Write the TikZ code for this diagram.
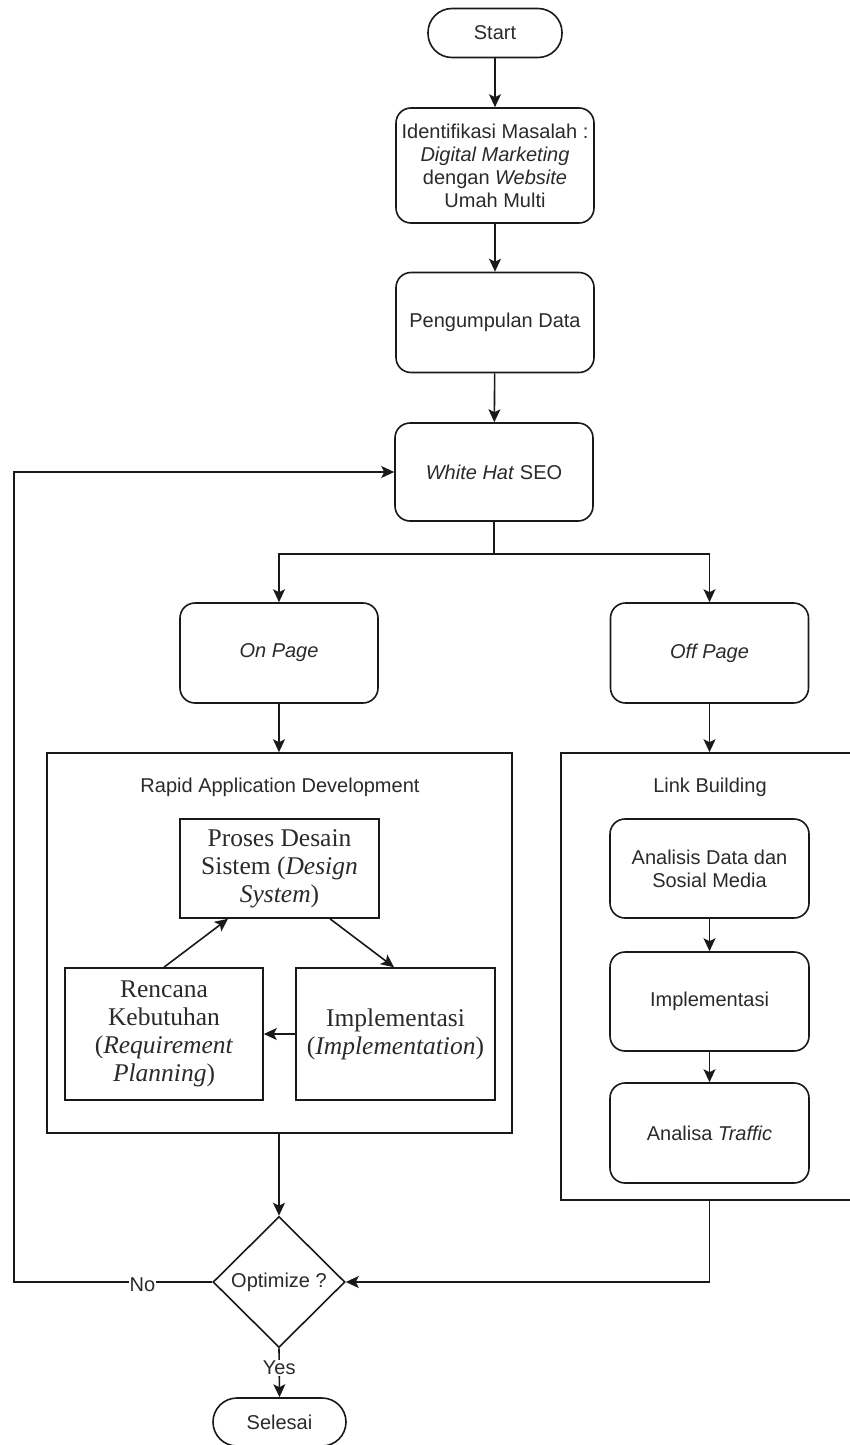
\documentclass[tikz,border=0pt]{standalone}
\usepackage{fontspec}
\setmainfont{Liberation Sans}
\newfontfamily\serifB{Liberation Serif}
\usetikzlibrary{arrows.meta,shapes.geometric,calc}
\definecolor{txt}{HTML}{2A2A2A}
\tikzset{
  base/.style={draw=black!90, line width=1.6pt, text=txt, align=center, inner sep=0pt,
    font=\fontsize{20}{23}\selectfont},
  rbox/.style={base, rounded corners=15pt, minimum width=198pt, minimum height=100pt},
  sbox/.style={base, minimum width=199pt, minimum height=99pt, font=\serifB\fontsize{25.5}{28}\selectfont},
  term/.style={base, rounded corners=24pt, minimum width=134pt, minimum height=49pt},
  frame/.style={draw=black!90, line width=1.6pt},
  lbl/.style={text=txt, font=\fontsize{20}{23}\selectfont, inner sep=1pt},
  arr/.style={draw=black!90, line width=1.6pt, -{Stealth[length=13pt,width=12pt,inset=3pt]}},
  ln/.style={draw=black!90, line width=1.6pt}
}
\begin{document}
\begin{tikzpicture}[x=1pt,y=-1pt]
\useasboundingbox (0,0) rectangle (849,1445);
% containers
\node[frame, minimum width=465pt, minimum height=380pt, inner sep=0pt] (rad) at (279.5,943) {};
\node[frame, minimum width=309pt, minimum height=447pt, inner sep=0pt] (lb) at (715.5,976.5) {};
\node[lbl] (radlabel) at (280,787) {Rapid Application Development};
\node[lbl] (lblabel) at (710,787) {Link Building};
% main flow
\node[term] (start) at (495,33) {Start};
\node[rbox, minimum height=115pt] (ident) at (495,165.5) {Identifikasi Masalah :\\\textit{Digital Marketing}\\dengan \textit{Website}\\Umah Multi};
\node[rbox] (peng) at (495,322.5) {Pengumpulan Data};
\node[rbox, minimum height=98pt] (wh) at (494,472) {\textit{White Hat} SEO};
\node[rbox] (onp) at (279,653) {\textit{On Page}};
\node[rbox] (offp) at (709.5,653) {\textit{Off Page}};
% RAD
\node[sbox] (proses) at (279.5,868.5) {Proses Desain\\Sistem (\textit{Design}\\\textit{System})};
\node[sbox, minimum width=198pt, minimum height=132pt] (renc) at (164,1034) {Rencana\\Kebutuhan\\(\textit{Requirement}\\\textit{Planning})};
\node[sbox, minimum height=132pt] (impl) at (395.5,1034) {Implementasi\\(\textit{Implementation})};
% Link building
\node[rbox, minimum width=199pt, minimum height=99pt] (ana) at (709.5,868.5) {Analisis Data dan\\Sosial Media};
\node[rbox, minimum width=199pt, minimum height=99pt] (imp2) at (709.5,1001.5) {Implementasi};
\node[rbox, minimum width=199pt, minimum height=100pt] (traf) at (709.5,1133) {Analisa \textit{Traffic}};
% decision
\node[base, diamond, minimum width=132pt, minimum height=131pt] (opt) at (279,1282) {Optimize ?};
\node[term, minimum width=133pt, minimum height=48pt] (sel) at (279.5,1422) {Selesai};
% connectors
\draw[arr] (start) -- (ident);
\draw[arr] (ident) -- (peng);
\draw[arr] (peng) -- (wh);
\coordinate (split) at (494,554);
\draw[ln] (wh.south) -- (split);
\draw[arr] (split) -| (onp.north);
\draw[arr] (split) -| (offp.north);
\draw[arr] (onp.south) -- (onp.south |- rad.north);
\draw[arr] (offp.south) -- (offp.south |- lb.north);
\draw[arr] (renc.north) -- ([xshift=-51.5pt]proses.south);
\draw[arr] ([xshift=50.5pt]proses.south) -- ([xshift=-1.5pt]impl.north);
\draw[arr] (impl.west) -- (renc.east);
\draw[arr] (ana) -- (imp2);
\draw[arr] (imp2) -- (traf);
\draw[arr] (rad.south -| opt.north) -- (opt.north);
\draw[arr] (lb.south -| traf.south) |- (opt.east);
\coordinate (loop) at (14,1282);
\draw[arr] (opt.west) -- node[lbl, fill=white, pos=0.352, yshift=-3pt] {No} (loop) |- (wh.west);
\draw[arr] (opt.south) -- node[lbl, fill=white, pos=0.4] {Yes} (sel.north);
\end{tikzpicture}
\end{document}
